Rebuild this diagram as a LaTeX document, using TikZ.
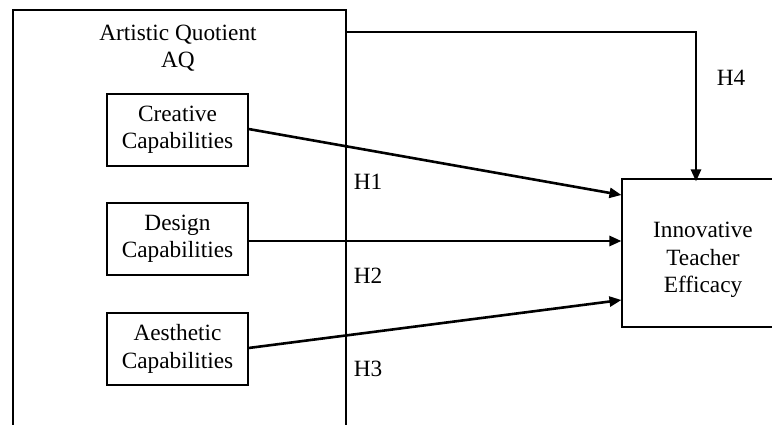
\documentclass[tikz,border=0pt]{standalone}
\usepackage{fontspec}
\setmainfont{Liberation Serif}
\usetikzlibrary{arrows.meta}
\begin{document}
\begin{tikzpicture}[x=1pt,y=-1pt,
  every node/.style={font=\fontsize{23.3}{27.5}\selectfont, align=center},
  capbox/.style={draw, line width=1.1pt, minimum width=141pt, minimum height=72pt, inner sep=0pt},
  conn/.style={line width=2.6pt, -{Triangle[length=12pt,width=10pt]}},
  hlabel/.style={inner sep=0pt}
]
\useasboundingbox (0,0) rectangle (772,425);
\clip (0,0) rectangle (772,425);
% outer AQ box (bottom extends past image)
\node[draw, line width=1.1pt, minimum width=333pt, minimum height=440pt, inner sep=0pt] (aq) at (179.5,230) {};
\node[hlabel] (aqt) at (178,48) {Artistic Quotient\\AQ};
% inner boxes
\node[capbox] (cc) at (177.5,130) {Creative\\Capabilities};
\node[capbox] (dc) at (177.5,239) {Design\\Capabilities};
\node[capbox] (ac) at (177.5,349) {Aesthetic\\Capabilities};
% outcome box (right edge beyond image)
\node[draw, line width=1.1pt, minimum width=162pt, minimum height=148pt, inner sep=0pt] (ite) at (703,253) {};
\node[hlabel] (itet) at (703,260) {Innovative\\Teacher\\Efficacy};
% connectors
\coordinate (h4s) at (aq.east |- 0,32);
\draw[conn] (h4s) -| ([xshift=-7pt,yshift=-3pt]ite.north);
\draw[conn] (cc.east |- 0,129) -- (ite.west |- 0,195);
\draw[conn] (dc.east |- 0,241) -- (ite.west |- 0,241);
\draw[conn] (ac.east |- 0,348) -- (ite.west |- 0,300);
% labels
\node[hlabel] (h1) at (368,182) {H1};
\node[hlabel] (h2) at (368,276) {H2};
\node[hlabel] (h3) at (368,369) {H3};
\node[hlabel] (h4) at (731,78) {H4};
\end{tikzpicture}
\end{document}
